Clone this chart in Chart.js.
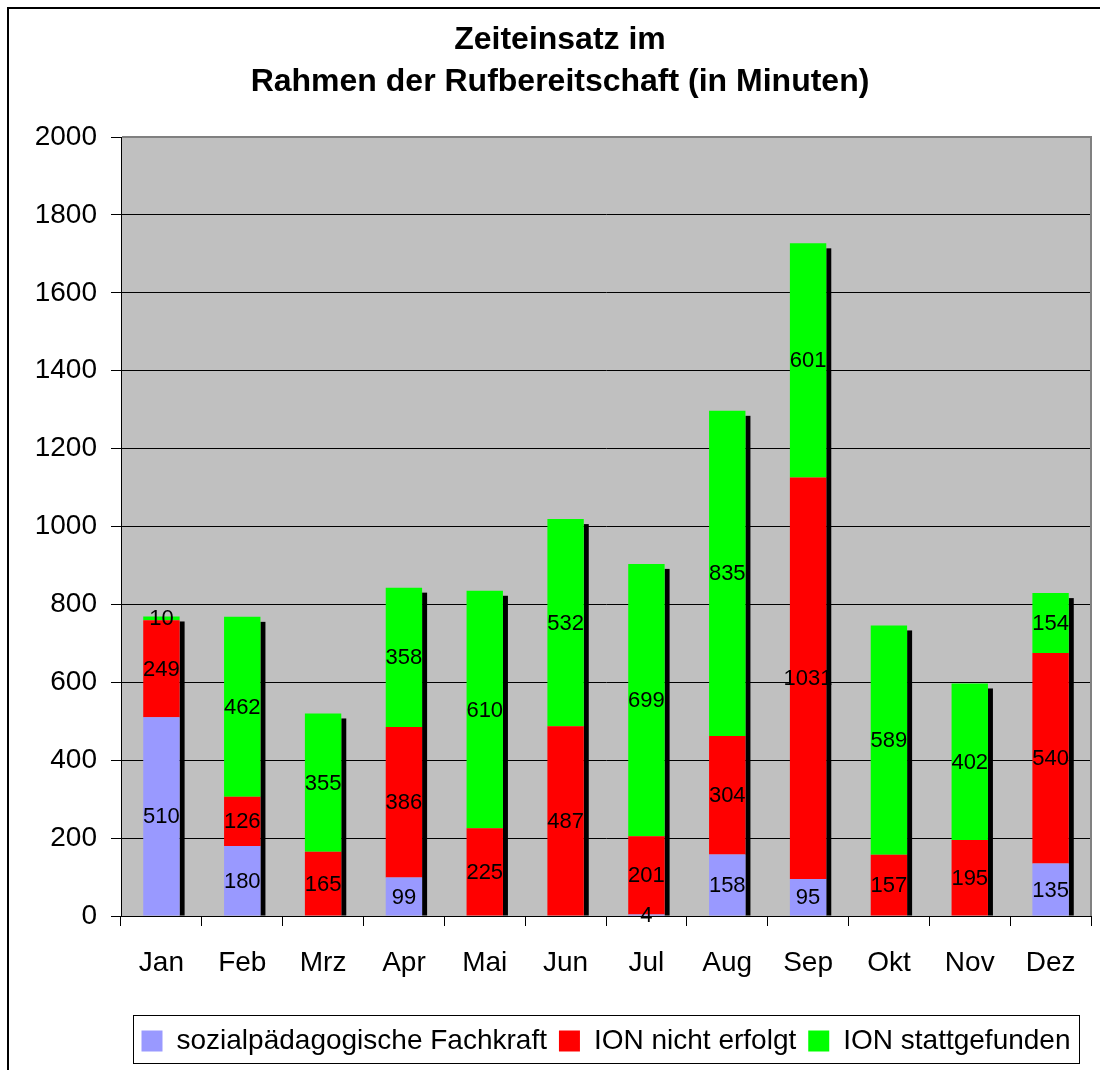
<!DOCTYPE html>
<html>
<head>
<meta charset="utf-8">
<script src="https://cdn.jsdelivr.net/npm/chart.js@4.4.0/dist/chart.umd.min.js"></script>
<style>
  html, body { margin: 0; padding: 0; background: #fff; overflow: hidden; }
  #frame { position: absolute; left: 7px; top: 7px; width: 1300px; height: 1300px; border: 2px solid #000; }
  #chart { position: absolute; left: 0; top: 0; }
</style>
</head>
<body>
<div id="frame"></div>
<canvas id="chart" width="1120" height="1070"></canvas>
<script>
const FONT = '"Liberation Sans", Arial, sans-serif';

const months = ['Jan', 'Feb', 'Mrz', 'Apr', 'Mai', 'Jun', 'Jul', 'Aug', 'Sep', 'Okt', 'Nov', 'Dez'];
const fachkraft = [510, 180, null, 99, null, null, 4, 158, 95, null, null, 135];
const ionNichtErfolgt = [249, 126, 165, 386, 225, 487, 201, 304, 1031, 157, 195, 540];
const ionStattgefunden = [10, 462, 355, 358, 610, 532, 699, 835, 601, 589, 402, 154];
const yMax = 2000;
const yStep = 200;

// grey plot background, grey top/right edge
const plotFrame = {
  id: 'plotFrame',
  beforeDraw(chart) {
    const {ctx, chartArea: a} = chart;
    ctx.save();
    ctx.fillStyle = '#C0C0C0';
    ctx.fillRect(a.left, a.top, a.right - a.left, a.bottom - a.top);
    ctx.restore();
  },
  beforeDatasetsDraw(chart) {
    const {ctx, chartArea: a} = chart;
    ctx.save();
    ctx.strokeStyle = '#808080';
    ctx.lineWidth = 2;
    ctx.beginPath();
    ctx.moveTo(a.left + 1, a.top);
    ctx.lineTo(a.right, a.top);
    ctx.lineTo(a.right, a.bottom);
    ctx.stroke();
    ctx.restore();
  }
};

// black drop shadow right of every stack
const barShadow = {
  id: 'barShadow',
  beforeDatasetsDraw(chart) {
    const {ctx} = chart;
    const metas = chart.getSortedVisibleDatasetMetas();
    ctx.save();
    ctx.fillStyle = '#000';
    chart.data.labels.forEach((_, i) => {
      let top = Infinity, right = 0, base = 0;
      metas.forEach(m => {
        const v = chart.data.datasets[m.index].data[i];
        const el = m.data[i];
        if (v == null || !el) return;
        top = Math.min(top, el.y);
        right = Math.max(right, el.x + el.width / 2);
        base = Math.max(base, el.base);
      });
      if (top === Infinity) return;
      ctx.fillRect(right, top + 5, 5, base - top - 5);
    });
    ctx.restore();
  }
};

// value inside each segment
const valueLabels = {
  id: 'valueLabels',
  afterDatasetsDraw(chart) {
    const {ctx} = chart;
    ctx.save();
    ctx.font = '22px ' + FONT;
    ctx.fillStyle = '#000';
    ctx.textAlign = 'center';
    ctx.textBaseline = 'middle';
    chart.getSortedVisibleDatasetMetas().forEach(m => {
      const values = chart.data.datasets[m.index].data;
      m.data.forEach((el, i) => {
        const v = values[i];
        if (v == null || v === 0) return;
        ctx.fillText(String(v), el.x, (el.y + el.base) / 2 + 1);
      });
    });
    ctx.restore();
  }
};

// frame around the legend items
const legendBox = {
  id: 'legendBox',
  afterDraw(chart) {
    const hb = chart.legend && chart.legend.legendHitBoxes;
    if (!hb || !hb.length) return;
    const first = hb[0], last = hb[hb.length - 1];
    const {ctx} = chart;
    const x = Math.round(first.left - 9) + 0.5;
    const y = Math.round(first.top - 12) + 0.5;
    const w = Math.round(last.left + last.width + 9) - Math.round(first.left - 9);
    ctx.save();
    ctx.strokeStyle = '#000';
    ctx.lineWidth = 1;
    ctx.strokeRect(x, y, w, first.height + 20);
    ctx.restore();
  }
};

new Chart(document.getElementById('chart'), {
  type: 'bar',
  data: {
    labels: months,
    datasets: [
      { label: 'sozialpädagogische Fachkraft', data: fachkraft, backgroundColor: '#9999FF' },
      { label: 'ION nicht erfolgt', data: ionNichtErfolgt, backgroundColor: '#FF0000' },
      { label: 'ION stattgefunden', data: ionStattgefunden, backgroundColor: '#00FF00' }
    ]
  },
  options: {
    responsive: false,
    animation: false,
    borderWidth: 0,
    categoryPercentage: 1,
    barPercentage: 0.45,
    layout: { padding: { left: 0, right: 0, top: 0, bottom: 5 } },
    plugins: {
      tooltip: { enabled: false },
      title: {
        display: true,
        text: ['Zeiteinsatz im', 'Rahmen der Rufbereitschaft (in Minuten)'],
        color: '#000',
        font: { family: FONT, size: 32, weight: 'bold', lineHeight: 42 / 32 },
        padding: { top: 19, bottom: 34 }
      },
      legend: {
        position: 'bottom',
        fullSize: false,
        labels: {
          boxWidth: 21,
          boxHeight: 21,
          padding: 12,
          color: '#000',
          font: { family: FONT, size: 28 }
        }
      }
    },
    scales: {
      x: {
        stacked: true,
        grid: { drawOnChartArea: false, drawTicks: true, tickLength: 10, color: '#000', offset: true },
        border: { color: '#000', width: 1 },
        ticks: { color: '#000', font: { family: FONT, size: 28 }, padding: 20 },
        afterFit: s => { s.height = 99; }
      },
      y: {
        stacked: true,
        min: 0,
        max: yMax,
        ticks: {
          stepSize: yStep,
          color: '#000',
          font: { family: FONT, size: 28 },
          padding: 14,
          callback: v => String(v)
        },
        grid: { color: '#000', tickLength: 10 },
        border: { color: '#000', width: 1 },
        afterFit: s => { s.width = 121; }
      },
      yPad: {
        position: 'right',
        display: true,
        grid: { display: false },
        border: { display: false },
        ticks: { display: false },
        afterFit: s => { s.width = 29; }
      }
    }
  },
  plugins: [plotFrame, barShadow, valueLabels, legendBox]
});
</script>
</body>
</html>
